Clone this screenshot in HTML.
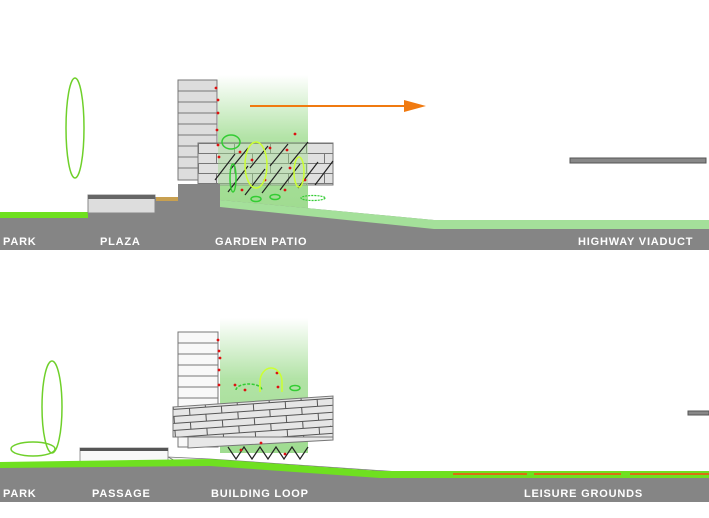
<!DOCTYPE html>
<html><head><meta charset="utf-8"><style>
html,body{margin:0;padding:0;background:#fff;width:709px;height:518px;overflow:hidden}
svg{display:block}
text{font-family:"Liberation Sans",sans-serif;font-weight:bold;font-size:11px;fill:#fff;letter-spacing:0.8px}
</style></head><body>
<svg width="709" height="518" viewBox="0 0 709 518" xmlns="http://www.w3.org/2000/svg">
<defs>
<linearGradient id="g1" x1="0" y1="0" x2="0" y2="1">
<stop offset="0" stop-color="#9fdc90" stop-opacity="0"/>
<stop offset="0.45" stop-color="#9fdc90" stop-opacity="0.8"/>
<stop offset="1" stop-color="#9fdc90" stop-opacity="1"/>
</linearGradient>
<pattern id="brick" width="36" height="20" patternUnits="userSpaceOnUse" x="198" y="143">
<rect width="36" height="20" fill="#e0e0e0"/>
<path d="M0 0.5H36M0 10.5H36M0.5 0V10M18.5 10V20" stroke="#777" stroke-width="1" fill="none"/>
</pattern>
<pattern id="brick2" width="32" height="14" patternUnits="userSpaceOnUse" patternTransform="rotate(-4)">
<rect width="32" height="14" fill="#e6e6e6"/>
<path d="M0 0.5H32M0 7.5H32M0.5 0V7M16.5 7V14" stroke="#555" stroke-width="1" fill="none"/>
</pattern>
</defs>

<!-- TOP PANEL -->
<rect x="218" y="75" width="90" height="140" fill="url(#g1)"/>
<ellipse cx="75" cy="128" rx="9" ry="50" fill="none" stroke="#6fd02a" stroke-width="1.5"/>
<rect x="178" y="80" width="39" height="100" fill="#ddd" stroke="#777"/>
<path d="M178 91H217M178 102H217M178 113H217M178 124H217M178 135H217M178 146H217M178 157H217M178 168H217" stroke="#777"/>
<rect x="198" y="143" width="135" height="42" fill="url(#brick)" stroke="#777"/>
<rect x="218" y="143" width="90" height="72" fill="#9fdc90" opacity="0.45"/>
<g stroke="#222" stroke-width="1.2" fill="none">
<path d="M215 180l20-26M228 192l20-26M245 195l20-26M262 193l20-26M280 190l20-26M298 188l20-26M315 185l18-24M230 170l18-22M250 168l18-22M270 166l18-22M290 164l18-22"/>
</g>
<g fill="#d11">
<circle cx="216" cy="88" r="1.4"/><circle cx="218" cy="100" r="1.4"/><circle cx="218" cy="113" r="1.4"/><circle cx="217" cy="130" r="1.4"/><circle cx="218" cy="145" r="1.4"/><circle cx="219" cy="157" r="1.4"/><circle cx="240" cy="152" r="1.4"/><circle cx="252" cy="160" r="1.4"/><circle cx="270" cy="148" r="1.4"/><circle cx="290" cy="168" r="1.4"/><circle cx="295" cy="134" r="1.4"/><circle cx="285" cy="190" r="1.4"/><circle cx="265" cy="180" r="1.4"/><circle cx="242" cy="190" r="1.4"/><circle cx="305" cy="180" r="1.4"/><circle cx="287" cy="150" r="1.4"/>
</g>
<ellipse cx="231" cy="142" rx="9" ry="7" fill="none" stroke="#3c3" stroke-width="1.5"/>
<ellipse cx="256" cy="165" rx="11" ry="23" fill="none" stroke="#cf3" stroke-width="1.5"/>
<ellipse cx="299" cy="172" rx="5" ry="15" fill="none" stroke="#cf3" stroke-width="1.5"/>
<ellipse cx="233" cy="178" rx="3" ry="14" fill="none" stroke="#3c3" stroke-width="1.5"/>
<ellipse cx="256" cy="199" rx="5" ry="2.5" fill="none" stroke="#3c3" stroke-width="1.5"/>
<ellipse cx="275" cy="197" rx="5" ry="2.5" fill="none" stroke="#3c3" stroke-width="1.5"/>
<ellipse cx="313" cy="198" rx="12" ry="2.5" fill="none" stroke="#3c3" stroke-width="1.2" stroke-dasharray="2 1"/>
<line x1="250" y1="106" x2="408" y2="106" stroke="#f07a10" stroke-width="2"/>
<polygon points="404,100 426,106 404,112" fill="#f07a10"/>
<rect x="570" y="158" width="136" height="5" fill="#888" stroke="#555"/>
<polygon points="0,217 88,217 88,213 155,213 155,197 178,197 178,184 220,184 220,200 434,220 709,220 709,250 0,250" fill="#858585"/>
<rect x="0" y="212" width="88" height="6" fill="#6fe020"/>
<rect x="88" y="195" width="67" height="18" fill="#ddd" stroke="#888"/>
<rect x="88" y="195" width="67" height="4" fill="#666"/>
<rect x="156" y="197" width="22" height="4" fill="#c8a050"/>
<polygon points="220,200 434,220 709,220 709,229 434,229 220,207" fill="#a4e09a"/>
<text x="3" y="245">PARK</text>
<text x="100" y="245">PLAZA</text>
<text x="215" y="245">GARDEN PATIO</text>
<text x="578" y="245">HIGHWAY VIADUCT</text>

<!-- BOTTOM PANEL -->
<rect x="220" y="318" width="88" height="135" fill="url(#g1)"/>
<ellipse cx="52" cy="407" rx="10" ry="46" fill="none" stroke="#6fd02a" stroke-width="1.5"/>
<ellipse cx="33" cy="449" rx="22" ry="7" fill="none" stroke="#6fd02a" stroke-width="1.5"/>
<rect x="178" y="332" width="40" height="115" fill="#f8f8f8" stroke="#777"/>
<path d="M178 343H218M178 354H218M178 365H218M178 376H218M178 387H218M178 398H218" stroke="#777"/>
<polygon points="173,407 333,396 333,437 173,437" fill="url(#brick2)" stroke="#777"/>
<polygon points="188,437 333,437 333,440 188,448" fill="#e8e8e8" stroke="#777"/>
<g stroke="#222" stroke-width="1.2" fill="none">
<path d="M228 447l8 12l8-12l8 12l8-12l8 12l8-12l8 12l8-12l8 12l8-12"/>
</g>
<g fill="#d11">
<circle cx="218" cy="340" r="1.4"/><circle cx="219" cy="351" r="1.4"/><circle cx="220" cy="358" r="1.4"/><circle cx="219" cy="370" r="1.4"/><circle cx="219" cy="385" r="1.4"/><circle cx="235" cy="385" r="1.4"/><circle cx="245" cy="390" r="1.4"/><circle cx="277" cy="373" r="1.4"/><circle cx="278" cy="387" r="1.4"/><circle cx="241" cy="450" r="1.4"/><circle cx="261" cy="443" r="1.4"/><circle cx="285" cy="454" r="1.4"/>
</g>
<path d="M236 390a13 6 0 0 1 26 0" fill="none" stroke="#3c3" stroke-width="1.5" stroke-dasharray="3 1.5"/>
<path d="M260 392v-10a11 14 0 0 1 22 0v10" fill="none" stroke="#cf3" stroke-width="1.5"/>
<ellipse cx="295" cy="388" rx="5" ry="2.5" fill="none" stroke="#3c3" stroke-width="1.5"/>
<rect x="80" y="448" width="88" height="18" fill="#f8f8f8" stroke="#999"/>
<rect x="80" y="448" width="88" height="3" fill="#555"/>
<polygon points="168,457 210,459 430,474 200,474" fill="#f4f4f4" stroke="#777" stroke-width="0.8"/>
<rect x="688" y="411" width="21" height="4" fill="#888" stroke="#555"/>
<polygon points="0,466 210,463 380,476 709,476 709,502 0,502" fill="#858585"/>
<polygon points="0,462 210,459 380,471 709,471 709,478 380,478 210,466 0,468" fill="#6fe020"/>
<g stroke="#e86010" stroke-width="1.8">
<line x1="453" y1="474" x2="527" y2="474"/><line x1="534" y1="474" x2="621" y2="474"/><line x1="630" y1="474" x2="709" y2="474"/>
</g>
<text x="3" y="497">PARK</text>
<text x="92" y="497">PASSAGE</text>
<text x="211" y="497">BUILDING LOOP</text>
<text x="524" y="497">LEISURE GROUNDS</text>
</svg>
</body></html>
